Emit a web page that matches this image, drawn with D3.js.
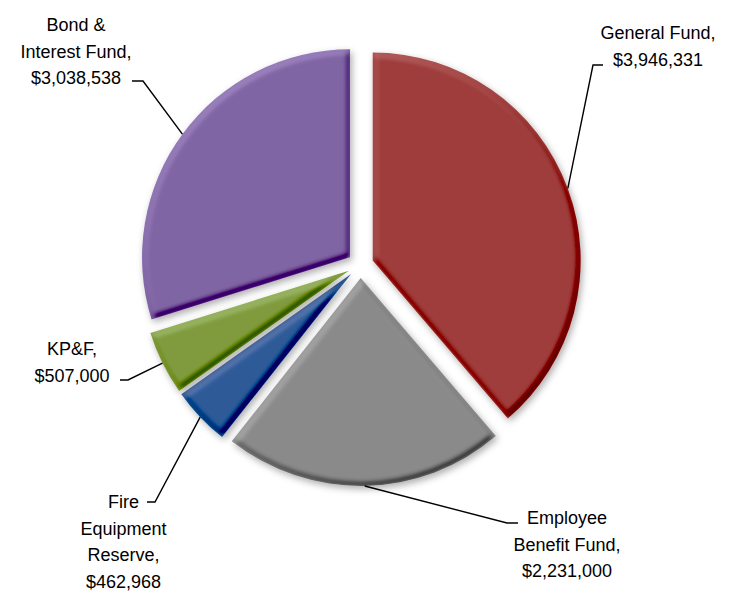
<!DOCTYPE html>
<html lang="en">
<head>
    <meta charset="UTF-8">
    <title>Fund Budget Pie</title>
    <script src="https://d3js.org/d3.v7.min.js"></script>
    <style>
        body { margin: 0; background: #fff; }
        .label text {
            font-family: "Liberation Sans", Arial, sans-serif;
            font-size: 18px;
            fill: #000;
        }
        .leader {
            fill: none;
            stroke: #000;
            stroke-width: 1.4px;
        }
    </style>
</head>
<body>
    <svg width="739" height="593"></svg>

    <script>
        // Data
        const categories = ["General Fund", "Employee Benefit Fund", "Fire Equipment Reserve", "KP&F", "Bond & Interest Fund"];
        const values = [3946331, 2231000, 462968, 507000, 3038538];
        const colors = ["#9e3c3b", "#8a8a8a", "#2c5a98", "#7f9b3c", "#8064a4"];
        // how each label wraps (value line is added below)
        const labelLines = [
            ["General Fund,"],
            ["Employee", "Benefit Fund,"],
            ["Fire", "Equipment", "Reserve,"],
            ["KP&F,"],
            ["Bond &", "Interest Fund,"]
        ];

        // Layout
        const cx = 360.5, cy = 265, radius = 208, explode = 13;
        const lineHeight = 26.5;
        // label centre x, first baseline y, leader dash [x from, x to, y]
        const labelPos = [
            { x: 658, y: 39, dash: [603, 593, 65] },
            { x: 567, y: 524, dash: [518, 507, 523] },
            { x: 123.5, y: 508, dash: [147, 155, 502] },
            { x: 72, y: 355, dash: [120, 128, 380] },
            { x: 76, y: 31, dash: [132, 143, 81] }
        ];

        const svg = d3.select("svg");
        const fmt = d3.format(",");

        // one bevel + soft shadow filter per slice colour
        const defs = svg.append("defs");
        colors.forEach((c, i) => {
            const f = defs.append("filter").attr("id", "bevel" + i)
                .attr("x", "-20%").attr("y", "-20%").attr("width", "140%").attr("height", "140%");
            f.append("feMorphology").attr("in", "SourceAlpha").attr("operator", "erode")
                .attr("radius", 2).attr("result", "er");
            f.append("feGaussianBlur").attr("in", "er").attr("stdDeviation", 2.4).attr("result", "blur");
            f.append("feDiffuseLighting").attr("in", "blur").attr("surfaceScale", 2)
                .attr("diffuseConstant", 1).attr("lighting-color", "#fff").attr("result", "light")
                .append("feDistantLight").attr("azimuth", 240).attr("elevation", 50);
            f.append("feFlood").attr("flood-color", c).attr("result", "fill");
            f.append("feComposite").attr("in", "fill").attr("in2", "light")
                .attr("operator", "arithmetic")
                .attr("k1", 0.8).attr("k2", 0.387).attr("k3", 0.25).attr("k4", -0.19).attr("result", "lit");
            f.append("feComposite").attr("in", "lit").attr("in2", "SourceAlpha")
                .attr("operator", "in").attr("result", "clipped");
            f.append("feGaussianBlur").attr("in", "SourceAlpha").attr("stdDeviation", 3.5).attr("result", "sblur");
            f.append("feOffset").attr("in", "sblur").attr("dx", 2).attr("dy", 3).attr("result", "soff");
            f.append("feFlood").attr("flood-color", "#000").attr("flood-opacity", 0.32).attr("result", "sc");
            f.append("feComposite").attr("in", "sc").attr("in2", "soff").attr("operator", "in").attr("result", "shadow");
            const merge = f.append("feMerge");
            merge.append("feMergeNode").attr("in", "shadow");
            merge.append("feMergeNode").attr("in", "clipped");
        });

        const pie = d3.pie().sort(null).value(d => d)
            .startAngle(0).endAngle(2 * Math.PI);
        const arcs = pie(values);
        const arc = d3.arc().innerRadius(0).outerRadius(radius);
        const mid = d => (d.startAngle + d.endAngle) / 2;

        const g = svg.append("g").attr("transform", `translate(${cx},${cy})`);

        g.selectAll("path.slice")
            .data(arcs)
            .enter().append("path")
            .attr("class", "slice")
            .attr("d", arc)
            .attr("fill", (d, i) => colors[i])
            .attr("filter", (d, i) => `url(#bevel${i})`)
            .attr("transform", d => `translate(${explode * Math.sin(mid(d))},${-explode * Math.cos(mid(d))})`);

        // leader lines: short dash at the label, then to the slice edge
        svg.selectAll("path.leader")
            .data(arcs)
            .enter().append("path")
            .attr("class", "leader")
            .attr("d", (d, i) => {
                const p = labelPos[i];
                const ex = cx + (radius + explode) * Math.sin(mid(d));
                const ey = cy - (radius + explode) * Math.cos(mid(d));
                return `M${p.dash[0]},${p.dash[2]}L${p.dash[1]},${p.dash[2]}L${ex},${ey}`;
            });

        const labels = svg.selectAll("g.label")
            .data(arcs)
            .enter().append("g")
            .attr("class", "label");

        labels.append("text")
            .attr("text-anchor", "middle")
            .selectAll("tspan")
            .data((d, i) => labelLines[i].concat("$" + fmt(values[i])).map(t => ({ t, i })))
            .enter().append("tspan")
            .attr("x", d => labelPos[d.i].x)
            .attr("y", (d, k) => labelPos[d.i].y + k * lineHeight)
            .text(d => d.t);
    </script>
</body>
</html>
